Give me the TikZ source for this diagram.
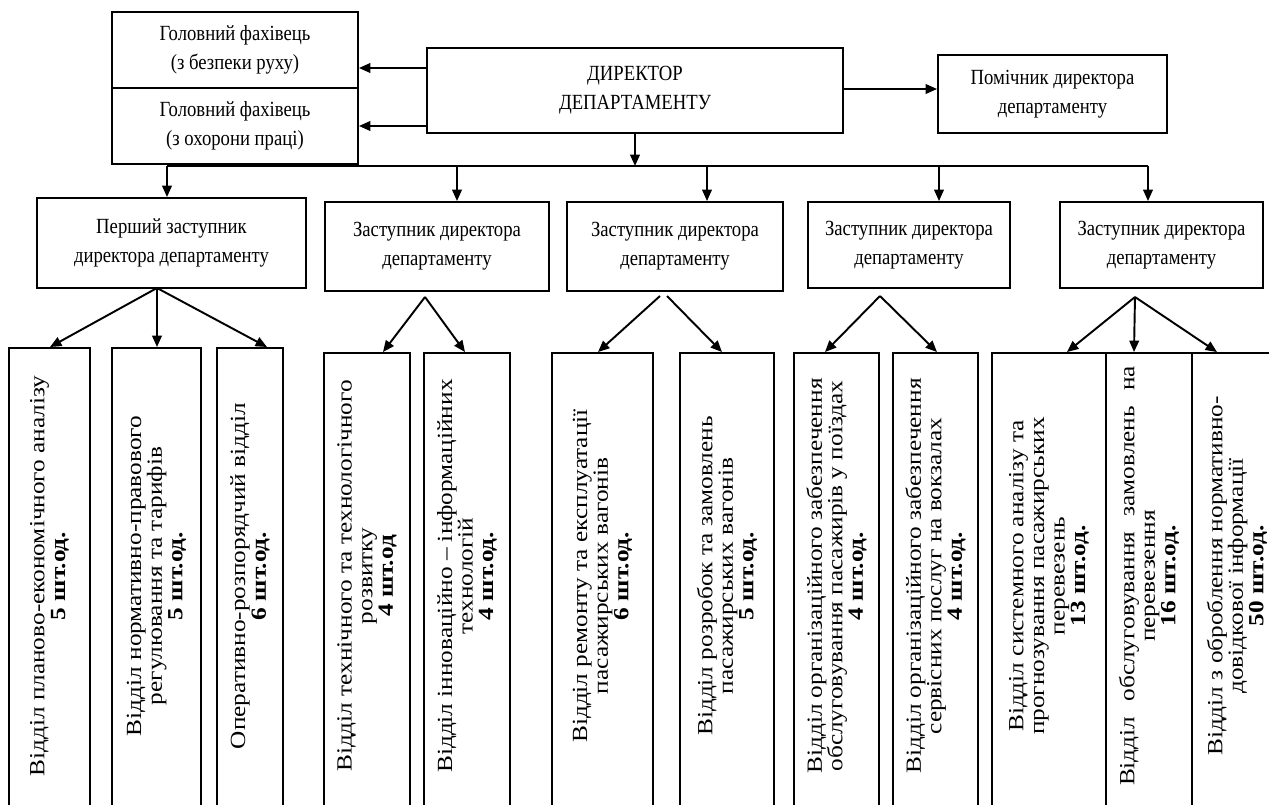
\documentclass[tikz,border=0pt]{standalone}
\usepackage{fontspec}
\setmainfont{Liberation Serif}
\newfontfamily\orgfont{Liberation Serif}[FakeStretch=0.865]
\newfontfamily\deptfont{Liberation Serif}[FakeStretch=1.17]
\usetikzlibrary{arrows.meta,fit}
\tikzstyle{orgbox}=[draw, line width=1.1pt, inner sep=0pt, align=center,
  font=\orgfont\fontsize{12.3}{16.5}\selectfont]
\tikzstyle{deptbox}=[draw, line width=1.1pt, inner sep=0pt]
\tikzstyle{depttext}=[rotate=90, align=center, inner sep=0pt,
  font=\deptfont\fontsize{12.3}{11.7}\selectfont]
\tikzstyle{line}=[draw, line width=1.1pt, -{Triangle[length=6.5pt,width=5.5pt]}]
\newcommand{\orgunit}[6]{\node (#1) [orgbox,
  minimum width={(#4-#2)*0.02cm}, minimum height={(#5-#3)*0.02cm}]
  at ({(#2+#4)/2},{(#3+#5)/2}) {#6};}
\newcommand{\dept}[5]{%
  \node (d#1) [deptbox, fit={(#2,#4) (#3,830)}] {};
  \node (t#1) [depttext] at (d#1.center |- 0,576) {#5};}

\begin{document}
\begin{tikzpicture}[x=0.02cm, y=-0.02cm]
  \useasboundingbox (0,0) rectangle (1269,805);
  \clip (0,0) rectangle (1269,805);

  % Top level
  \orgunit{spec1}{112}{12}{358}{88}{Головний фахівець\\(з безпеки руху)}
  \orgunit{spec2}{112}{88}{358}{164}{Головний фахівець\\(з охорони праці)}
  \orgunit{dir}{427}{48}{843}{133}{ДИРЕКТОР\\ДЕПАРТАМЕНТУ}
  \orgunit{pom}{938}{55}{1167}{133}{Помічник директора\\департаменту}

  % Deputies
  \orgunit{z1}{37}{198}{306}{288}{Перший заступник\\директора департаменту}
  \orgunit{z2}{325}{202}{549}{291}{Заступник директора\\департаменту}
  \orgunit{z3}{567}{202}{783}{291}{Заступник директора\\департаменту}
  \orgunit{z4}{808}{202}{1010}{288}{Заступник директора\\департаменту}
  \orgunit{z5}{1060}{202}{1263}{288}{Заступник директора\\департаменту}

  % Departments
  \dept{1}{9}{90}{348}{Відділ планово-економічного аналізу\\\textbf{5 шт.од.}}
  \dept{2}{112}{201}{348}{Відділ нормативно-правового\\регулювання та тарифів\\\textbf{5 шт.од.}}
  \dept{3}{217}{283}{348}{Оперативно-розпорядчий відділ\\\textbf{6 шт.од.}}
  \dept{4}{324}{410}{353}{Відділ технічного та технологічного\\розвитку\\\textbf{4 шт.од}}
  \dept{5}{424}{510}{353}{Відділ інноваційно – інформаційних\\технологій\\\textbf{4 шт.од.}}
  \dept{6}{552}{653}{353}{Відділ ремонту та експлуатації\\пасажирських вагонів\\\textbf{6 шт.од.}}
  \dept{7}{680}{774}{353}{Відділ розробок та замовлень\\пасажирських вагонів\\\textbf{5 шт.од.}}
  \dept{8}{794}{879}{353}{Відділ організаційного забезпечення\\обслуговування пасажирів у поїздах\\\textbf{4 шт.од.}}
  \dept{9}{893}{978}{353}{Відділ організаційного забезпечення\\сервісних послуг на вокзалах\\\textbf{4 шт.од.}}
  \dept{10}{992}{1106}{353}{Відділ системного аналізу та\\прогнозування пасажирських\\перевезень\\\textbf{13 шт.од.}}
  \dept{11}{1106}{1192}{353}{\makebox[8.4cm][s]{Відділ обслуговування замовлень на}\\перевезення\\\textbf{16 шт.од.}}
  \dept{12}{1192}{1282}{353}{Відділ з оброблення нормативно-\\довідкової інформації\\\textbf{50 шт.од.}}

  % Arrows from the director
  \path [line] (dir.west |- 0,68) -- (spec1.east |- 0,68);
  \path [line] (dir.west |- 0,126) -- (spec2.east |- 0,126);
  \path [line] (dir.east |- 0,89) -- (pom.west |- 0,89);

  % Bus to the deputies
  \coordinate (busl) at (167,166);
  \coordinate (busr) at (1148,166);
  \draw [line width=1.1pt] (busl) -- (busr);
  \path [line] (dir.south) -- (dir.south |- busl);
  \path [line] (busl) -- (busl |- z1.north);
  \path [line] (busl -| 457,0) -- (z2.north -| 457,0);
  \path [line] (busl -| 707,0) -- (z3.north -| 707,0);
  \path [line] (busl -| 939,0) -- (z4.north -| 939,0);
  \path [line] (busr) -- (busr |- z5.north);

  % Deputies to departments
  \coordinate (f1) at (157,288);
  \coordinate (f2) at (425,297);
  \coordinate (f3a) at (660,296);
  \coordinate (f3b) at (667,296);
  \coordinate (f4) at (880,296);
  \coordinate (f5) at (1135,297);
  \path [line] (f1) -- (d1.north -| 50,0);
  \path [line] (f1) -- (d2.north -| 157,0);
  \path [line] (f1) -- (d3.north -| 267,0);
  \path [line] (f2) -- (d4.north -| 383,0);
  \path [line] (f2) -- (d5.north -| 465,0);
  \path [line] (f3a) -- (d6.north -| 598,0);
  \path [line] (f3b) -- (d7.north -| 722,0);
  \path [line] (f4) -- (d8.north -| 825,0);
  \path [line] (f4) -- (d9.north -| 937,0);
  \path [line] (f5) -- (d10.north -| 1067,0);
  \path [line] (f5) -- (d11.north -| 1134,0);
  \path [line] (f5) -- (d12.north -| 1217,0);
\end{tikzpicture}
\end{document}
